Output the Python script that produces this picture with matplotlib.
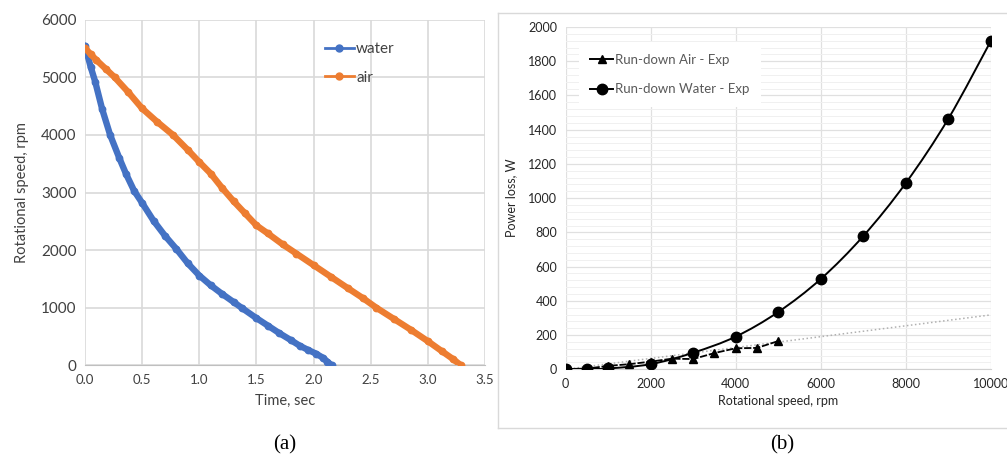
import numpy as np
import matplotlib
matplotlib.use("Agg")
from matplotlib import pyplot as plt
from matplotlib.path import Path
from matplotlib.patches import PathPatch
from matplotlib.lines import Line2D

# (a) run-down curves, time in s vs rotational speed in rpm
t_water = [0.00, 0.02, 0.05, 0.09, 0.15, 0.22, 0.30, 0.36, 0.43, 0.50, 0.60, 0.70, 0.80, 0.90,
           1.00, 1.10, 1.20, 1.30, 1.37, 1.50, 1.60, 1.70, 1.80, 1.88, 1.95, 2.02, 2.08, 2.12, 2.16]
n_water = [5550, 5400, 5180, 4920, 4450, 4000, 3600, 3320, 3030, 2820, 2510, 2250, 2020, 1770,
           1560, 1390, 1240, 1100, 1000, 820, 690, 560, 440, 340, 270, 205, 135, 65, 0]
t_air = [0.00, 0.05, 0.10, 0.18, 0.26, 0.38, 0.50, 0.63, 0.77, 0.90, 1.00, 1.10, 1.20, 1.30,
         1.40, 1.50, 1.60, 1.73, 1.85, 2.00, 2.15, 2.30, 2.43, 2.55, 2.70, 2.85, 3.00, 3.12, 3.22, 3.29]
n_air = [5510, 5400, 5300, 5150, 5000, 4740, 4460, 4230, 4000, 3740, 3530, 3330, 3080, 2850,
         2640, 2430, 2290, 2100, 1940, 1740, 1540, 1340, 1170, 1000, 810, 620, 420, 250, 110, 0]

# (b) power loss vs rotational speed
rpm_water = [0, 500, 1000, 2000, 3000, 4000, 5000, 6000, 7000, 8000, 9000, 10000]
p_water = [2, 2, 5, 30, 97, 191, 335, 528, 779, 1089, 1465, 1920]
rpm_air = [0, 500, 1000, 1500, 2000, 2500, 3000, 3500, 4000, 4500, 5000]
p_air = [2, 4, 20, 30, 45, 62, 60, 95, 123, 125, 165]
trend_rpm = [0, 10000]
trend_p = [0, 318]

BLUE = '#4472C4'
ORANGE = '#ED7D31'
GRID = '#d9d9d9'
TXT = '#404040'

plt.rcParams['font.family'] = ['Lato', 'DejaVu Sans']


def smooth_path(x, y):
    # excel style smoothed line: catmull-rom segments as cubic beziers
    x = np.asarray(x, float)
    y = np.asarray(y, float)
    verts = [(x[0], y[0])]
    codes = [Path.MOVETO]
    n = len(x)
    for i in range(n - 1):
        x0, y0 = (x[i - 1], y[i - 1]) if i > 0 else (x[i], y[i])
        x3, y3 = (x[i + 2], y[i + 2]) if i + 2 < n else (x[i + 1], y[i + 1])
        c1 = (x[i] + (x[i + 1] - x0) / 6, y[i] + (y[i + 1] - y0) / 6)
        c2 = (x[i + 1] - (x3 - x[i]) / 6, y[i + 1] - (y3 - y[i]) / 6)
        verts += [c1, c2, (x[i + 1], y[i + 1])]
        codes += [Path.CURVE4] * 3
    return Path(verts, codes)


fig = plt.figure(figsize=(10.07, 4.59), dpi=100)

# ---- panel (a)
ax1 = fig.add_axes([0.0844, 0.204, 0.3972, 0.753])
ax1.plot(t_water, n_water, '-', color=BLUE, lw=4.6, solid_capstyle='round', solid_joinstyle='round',
         marker='o', ms=4.6, zorder=3)
ax1.plot(t_air, n_air, '-', color=ORANGE, lw=4.6, solid_capstyle='round', solid_joinstyle='round',
         marker='o', ms=4.6, zorder=4)
ax1.set_xlim(0, 3.5)
ax1.set_ylim(0, 6000)
ax1.set_xticks(np.arange(0, 3.51, 0.5))
ax1.set_xticklabels(['%.1f' % v for v in np.arange(0, 3.51, 0.5)])
ax1.set_yticks(range(0, 6001, 1000))
ax1.grid(True, color=GRID, lw=1.2)
ax1.set_axisbelow(True)
for s in ['top', 'right', 'left']:
    ax1.spines[s].set_visible(False)
ax1.spines['bottom'].set_color('#bfbfbf')
ax1.tick_params(length=0, labelsize=9.5, colors=TXT, pad=6)
plt.setp(ax1.get_yticklabels(), fontsize=11)
ax1.set_xlabel('Time, sec', fontsize=10.5, color=TXT, labelpad=6)
ax1.set_ylabel('Rotational speed, rpm', fontsize=10.5, color=TXT, labelpad=9)
h1 = [Line2D([], [], color=BLUE, lw=2, marker='o', ms=5),
      Line2D([], [], color=ORANGE, lw=2, marker='o', ms=5)]
ax1.legend(h1, ['water', 'air'], loc='upper left', bbox_to_anchor=(0.565, 0.975), frameon=False,
           fontsize=11, labelcolor=TXT, handlelength=1.9, handletextpad=0.15, labelspacing=0.95)

# ---- panel (b)
ax2 = fig.add_axes([0.5616, 0.1954, 0.4225, 0.7458])
ax2.plot(trend_rpm, trend_p, ':', color='#b0b0b0', lw=1.1, zorder=2)
ax2.add_patch(PathPatch(smooth_path(rpm_water, p_water), fill=False, ec='black', lw=1.4, zorder=3))
ax2.plot(rpm_water, p_water, 'o', color='black', ms=7.5, zorder=4)
ax2.plot(rpm_air, p_air, '-', color='black', lw=1.3, marker='^', ms=6, zorder=5,
         dashes=(4, 1))
ax2.set_xlim(0, 10000)
ax2.set_ylim(0, 2000)
ax2.set_xticks(range(0, 10001, 2000))
ax2.set_yticks(range(0, 2001, 200))
ax2.set_yticks(range(0, 2001, 40), minor=True)
ax2.grid(True, which='major', color='#e0e0e0', lw=0.9)
ax2.grid(True, which='minor', axis='y', color='#f0f0f0', lw=0.7)
ax2.set_axisbelow(True)
for s in ['top', 'right', 'left']:
    ax2.spines[s].set_visible(False)
ax2.spines['bottom'].set_color('#d0d0d0')
ax2.tick_params(which='both', length=0, labelsize=9, colors='#262626', pad=6)
ax2.set_xlabel('Rotational speed, rpm', fontsize=9, color='#262626', labelpad=4)
ax2.set_ylabel('Power loss, W', fontsize=9, color='#262626', labelpad=8)
h2 = [Line2D([], [], color='black', lw=1.4, marker='^', ms=6),
      Line2D([], [], color='black', lw=1.4, marker='o', ms=7.5)]
leg = ax2.legend(h2, ['Run-down Air - Exp', 'Run-down Water - Exp'], loc='upper left',
                 bbox_to_anchor=(0.015, 0.975), frameon=True, fancybox=False, framealpha=1,
                 facecolor='white', edgecolor='none', fontsize=9.5, labelcolor='#595959',
                 handlelength=1.7, handletextpad=0.15, labelspacing=1.3, borderpad=0.9)

# panel border for (b)
fig.add_artist(Line2D([498 / 1007, 1.0], [1 - 13 / 459, 1 - 13 / 459], color='#d9d9d9', lw=1))
fig.add_artist(Line2D([498 / 1007, 1.0], [1 - 428 / 459, 1 - 428 / 459], color='#d9d9d9', lw=1))
fig.add_artist(Line2D([498 / 1007, 498 / 1007], [1 - 13 / 459, 1 - 428 / 459], color='#d9d9d9', lw=1))

fig.text(285 / 1007, 1 - 445 / 459, '(a)', fontsize=15, family='Liberation Serif', ha='center', va='center')
fig.text(782 / 1007, 1 - 445 / 459, '(b)', fontsize=15, family='Liberation Serif', ha='center', va='center')

fig.savefig('out.png', dpi=100, facecolor='white')
